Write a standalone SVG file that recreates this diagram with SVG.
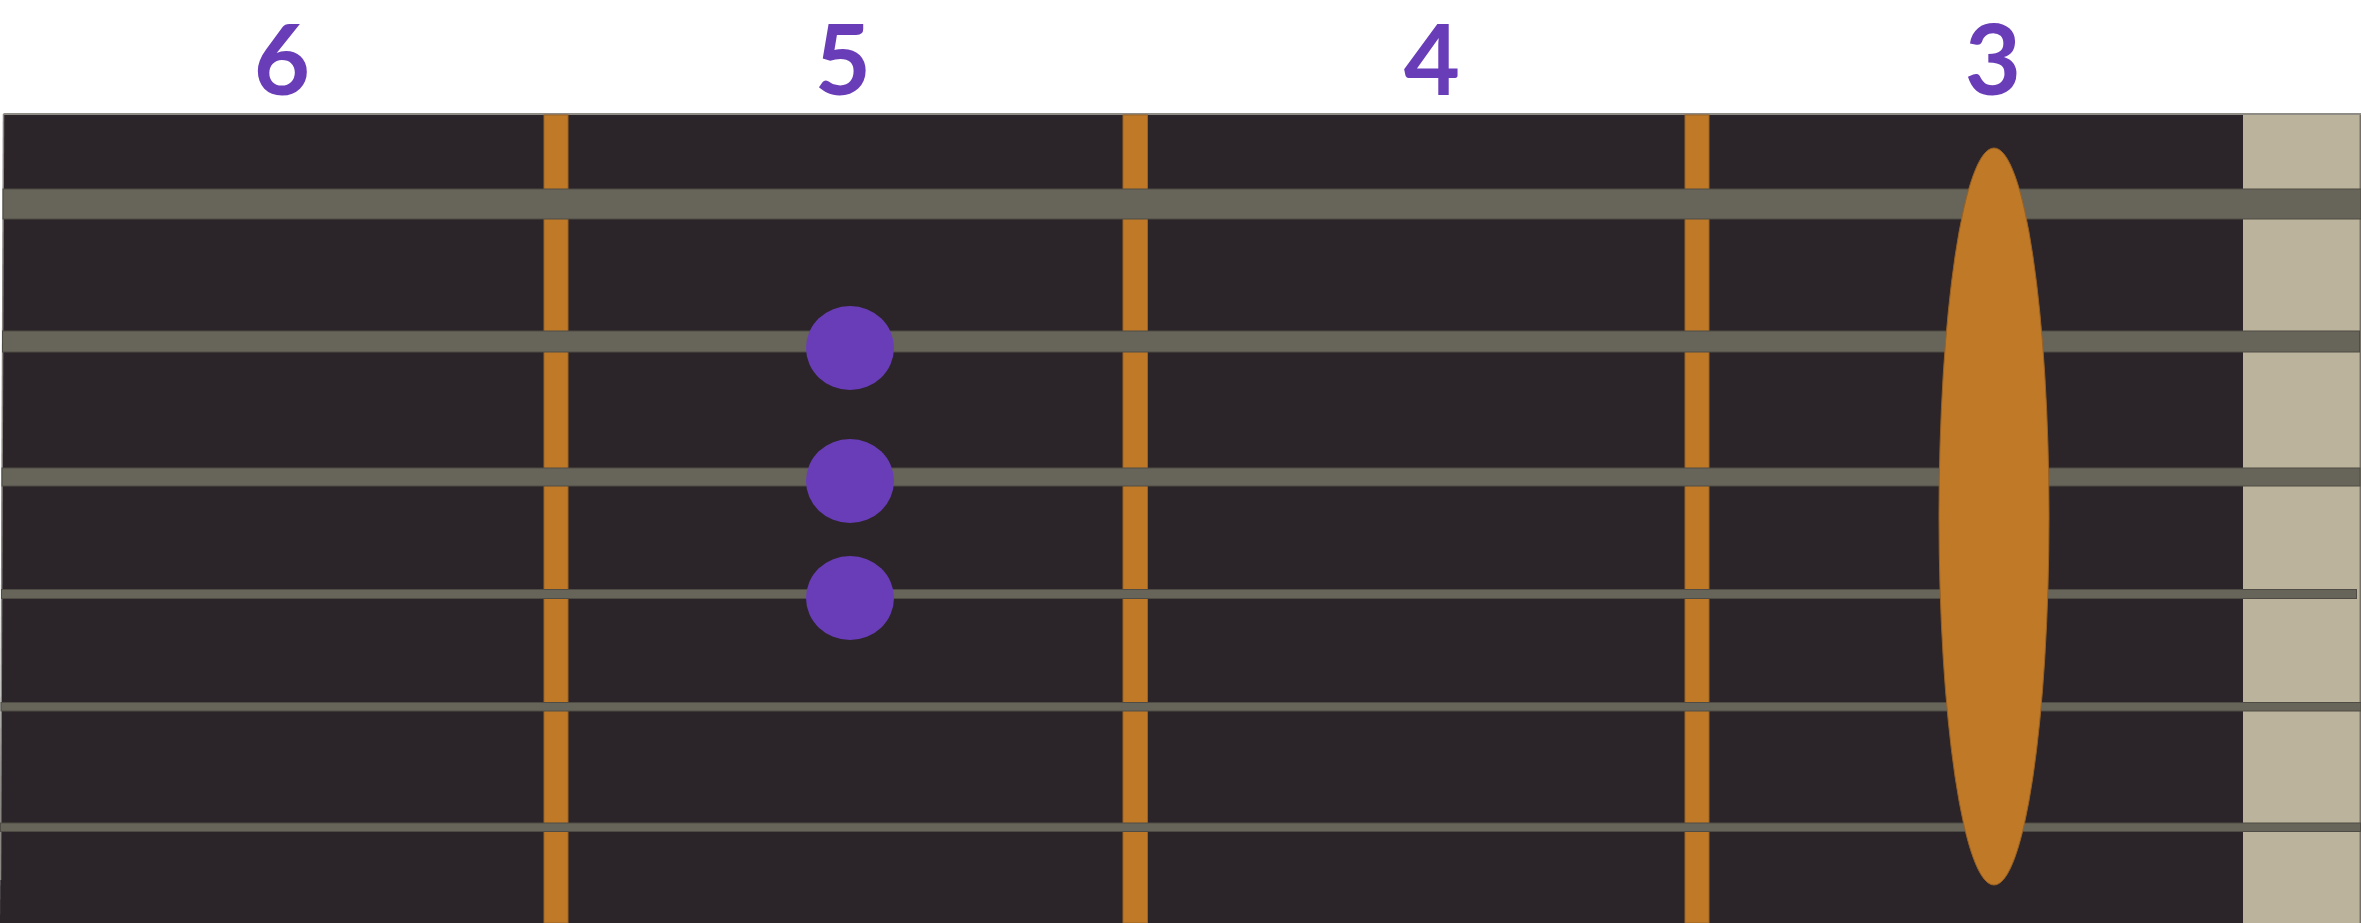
<svg xmlns="http://www.w3.org/2000/svg" width="2361" height="923" viewBox="0 0 2361 923">
  <style>
    .num { font-family: Lato, "Liberation Sans", sans-serif; font-weight: 700; font-size: 97px; fill: #6a3db8; text-anchor: middle; }
    .fret { fill: #c07a27; stroke: #9a6224; stroke-width: 1; }
    .str { fill: #67645a; stroke: #4f4c45; stroke-width: 1; }
    .dot { fill: #6a3db8; }
  </style>
  <rect x="0" y="0" width="2361" height="923" fill="#ffffff"/>
  <g id="labels">
    <text id="label-6" class="num" x="282" y="95">6</text>
    <text id="label-5" class="num" x="843" y="95">5</text>
    <text id="label-4" class="num" x="1432" y="95">4</text>
    <text id="label-3" class="num" x="1993" y="95">3</text>
  </g>
  <g id="board">
    <polygon points="3.5,114 2361,114 2361,923 0,923" fill="#2b2529"/>
    <line x1="3.5" y1="114" x2="0.5" y2="880" stroke="#8a8782" stroke-width="1.5"/>
    <line x1="3.5" y1="114" x2="2361" y2="114" stroke="#8f8b85" stroke-width="2"/>
    <rect id="nut" x="2243" y="115" width="117" height="808" fill="#bbb39b"/>
    <line x1="2360" y1="114" x2="2360" y2="923" stroke="#8f8a7c" stroke-width="1.5"/>
  </g>
  <g id="frets">
    <rect class="fret" x="544" y="115" width="24" height="808"/>
    <rect class="fret" x="1123" y="115" width="24.5" height="808"/>
    <rect class="fret" x="1685" y="115" width="24" height="808"/>
  </g>
  <g id="strings">
    <rect class="str" x="3" y="189" width="2358" height="30"/>
    <rect class="str" x="2.5" y="331" width="2357" height="21"/>
    <rect class="str" x="2" y="468" width="2358" height="18"/>
    <rect class="str" x="1.5" y="589.5" width="2355" height="9"/>
    <rect class="str" x="1" y="702.5" width="2360" height="8.5"/>
    <rect class="str" x="0.5" y="823" width="2360" height="8.5"/>
  </g>
  <g id="dot-1"><ellipse class="dot" cx="850" cy="348" rx="44" ry="42"/></g>
  <g id="dot-2"><ellipse class="dot" cx="850" cy="481" rx="44" ry="42"/></g>
  <g id="dot-3"><ellipse class="dot" cx="850" cy="598" rx="44" ry="42"/></g>
  <g id="barre"><ellipse cx="1994" cy="516.5" rx="55" ry="368.5" fill="#c07a27" stroke="#9a6224" stroke-width="1"/></g>
</svg>
